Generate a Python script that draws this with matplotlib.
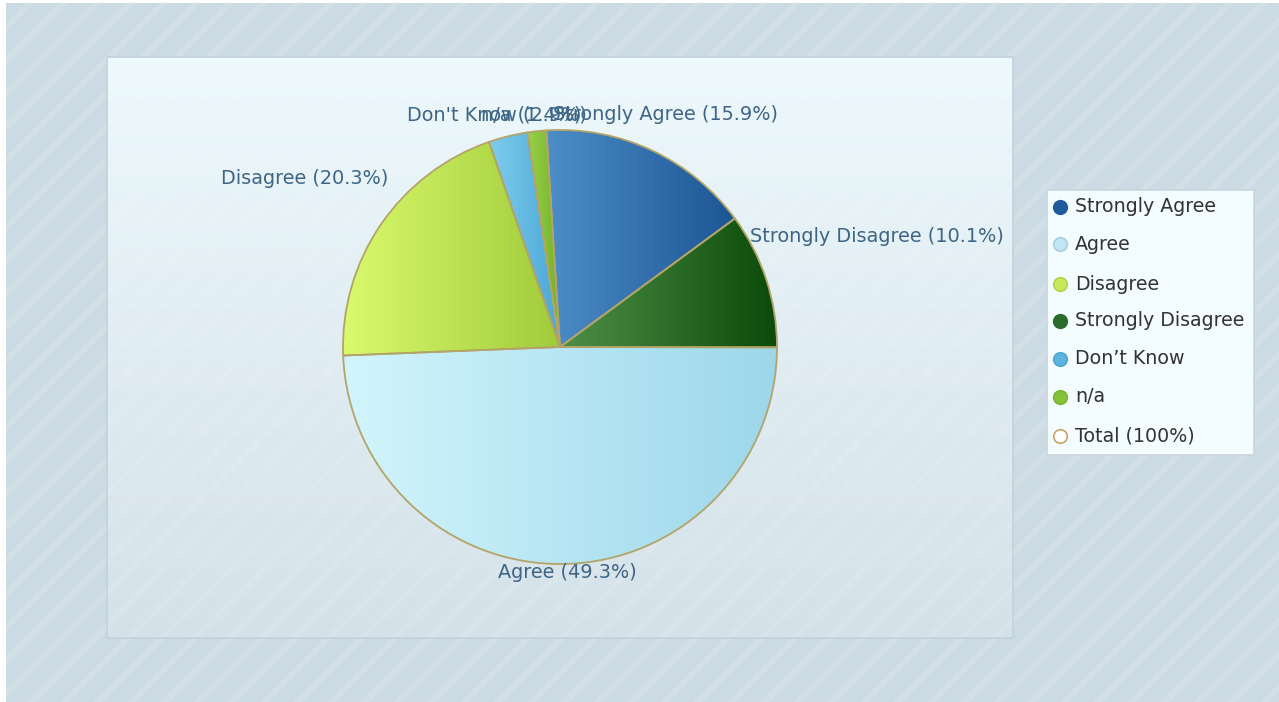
import numpy as np
import matplotlib
matplotlib.use("Agg")
import matplotlib.pyplot as plt
from matplotlib.patches import Rectangle
from matplotlib.colors import LinearSegmentedColormap, to_rgba

# ---------------- data ----------------
categories = ['Strongly Agree', 'Agree', 'Disagree', 'Strongly Disagree', "Don't Know", 'n/a']
values = [15.9, 49.3, 20.3, 10.1, 2.9, 1.4]
legend_labels = ['Strongly Agree', 'Agree', 'Disagree', 'Strongly Disagree', 'Don\u2019t Know', 'n/a', 'Total (100%)']
pie_order = ['Strongly Agree', 'Strongly Disagree', 'Agree', 'Disagree', "Don't Know", 'n/a']

# ---------------- styles ----------------
grad_colors = {  # (left/light, right/dark)
    'Strongly Agree': ('#4d8ec8', '#1c5594'),
    'Agree': ('#d2f5fc', '#9dd7eb'),
    'Disagree': ('#dafa6e', '#a0cb3a'),
    'Strongly Disagree': ('#4f9048', '#0a4a0a'),
    "Don't Know": ('#80cdef', '#4aa7d5'),
    'n/a': ('#9ad24c', '#72b128'),
}
legend_colors = ['#1f5a9c', '#bfe6f2', '#c6e85a', '#2a6a2a', '#5ab4de', '#84c23a', 'white']
legend_edges = ['#1f5a9c', '#a9cfdc', '#b2d44c', '#2a6a2a', '#4ea6d0', '#78b432', '#c8a468']
label_color = '#3e6586'
text_color = '#333333'
edge_color = '#b3a468'
FS = 13.9

W, H = 1279, 702
PIE_CX, PIE_CY, PIE_R = 560, 347, 217
label_pos = {  # pixel anchors (x, y, ha)
    'Strongly Agree': (553, 115, 'left'),
    'Strongly Disagree': (750, 236, 'left'),
    'Agree': (567, 573, 'center'),
    'Disagree': (221, 178, 'left'),
    "Don't Know": (407, 115, 'left'),
    'n/a': (481, 115, 'left'),
}

plt.rcParams['font.family'] = ['DejaVu Sans']
plt.rcParams['hatch.linewidth'] = 4.5
fig = plt.figure(figsize=(W / 100, H / 100), dpi=100, facecolor='white')

# background axes in pixel coordinates
bg = fig.add_axes([0, 0, 1, 1])
bg.set_xlim(0, W)
bg.set_ylim(H, 0)
bg.axis('off')
bg.add_patch(Rectangle((6, 3), W - 6, H - 3, facecolor='#ccdae3', edgecolor='#d3dfe7',
                       hatch='/', linewidth=0, zorder=0))

# panel with vertical gradient (translucent towards bottom)
px0, py0, px1, py1 = 107, 57, 1013, 638
n = 256
grad = np.zeros((n, 1, 4))
top = np.array(to_rgba('#eefafd'))
bot = np.array(to_rgba('#e0ecf1'))
t = np.linspace(0, 1, n)[:, None]
grad[:, 0, :3] = top[:3] * (1 - t) + bot[:3] * t
grad[:, 0, 3] = (1 - t[:, 0]) ** 0.7 * 0.6 + 0.4
bg.imshow(grad, extent=(px0, px1, py1, py0), aspect='auto', zorder=1, interpolation='bilinear')
bg.add_patch(Rectangle((px0, py0), px1 - px0, py1 - py0, facecolor='none',
                       edgecolor='#c2d2db', linewidth=1.2, zorder=2))

# legend box
lx0, ly0, lx1, ly1 = 1047, 190, 1254, 455
bg.add_patch(Rectangle((lx0, ly0), lx1 - lx0, ly1 - ly0, facecolor='#f3fcfe',
                       edgecolor='#c9d6de', linewidth=1.2, zorder=3))
legend_rows = [207, 244, 284, 321, 359, 397, 436]
for lab, fc, ec, yy in zip(legend_labels, legend_colors, legend_edges, legend_rows):
    bg.scatter([1060], [yy], s=95, c=[fc], edgecolors=[ec], linewidths=1.2, zorder=4)
    bg.text(1075, yy, lab, fontsize=FS - 0.2, color=text_color, va='center', ha='left', zorder=5)
bg.set_xlim(0, W)
bg.set_ylim(H, 0)

# pie axes
half = 300
ax = fig.add_axes([(PIE_CX - half) / W, 1 - (PIE_CY + half) / H, 2 * half / W, 2 * half / H])
vals = [values[categories.index(c)] for c in pie_order]
wedges, _ = ax.pie(vals, startangle=93.6, counterclock=False,
                   wedgeprops=dict(edgecolor=edge_color, linewidth=1.3, facecolor='none'))
gx = np.linspace(0, 1, 256)[None, :]
for w, c in zip(wedges, pie_order):
    w.set_facecolor('none')
    w.set_zorder(3)
    ext = w.get_path().get_extents()
    cmap = LinearSegmentedColormap.from_list(c, list(grad_colors[c]))
    im = ax.imshow(gx, cmap=cmap, extent=(ext.x0, ext.x1, ext.y0, ext.y1),
                   aspect='auto', zorder=2, interpolation='bilinear')
    im.set_clip_path(w)
lim = half / PIE_R
ax.set_xlim(-lim, lim)
ax.set_ylim(-lim, lim)
ax.axis('off')
ax.patch.set_alpha(0)

# slice labels
for c in pie_order:
    v = values[categories.index(c)]
    x, y, ha = label_pos[c]
    fig.text(x / W, 1 - y / H, f"{c} ({v}%)", fontsize=FS, color=label_color,
             ha=ha, va='center')

fig.savefig('out.png', dpi=100, facecolor='white')
